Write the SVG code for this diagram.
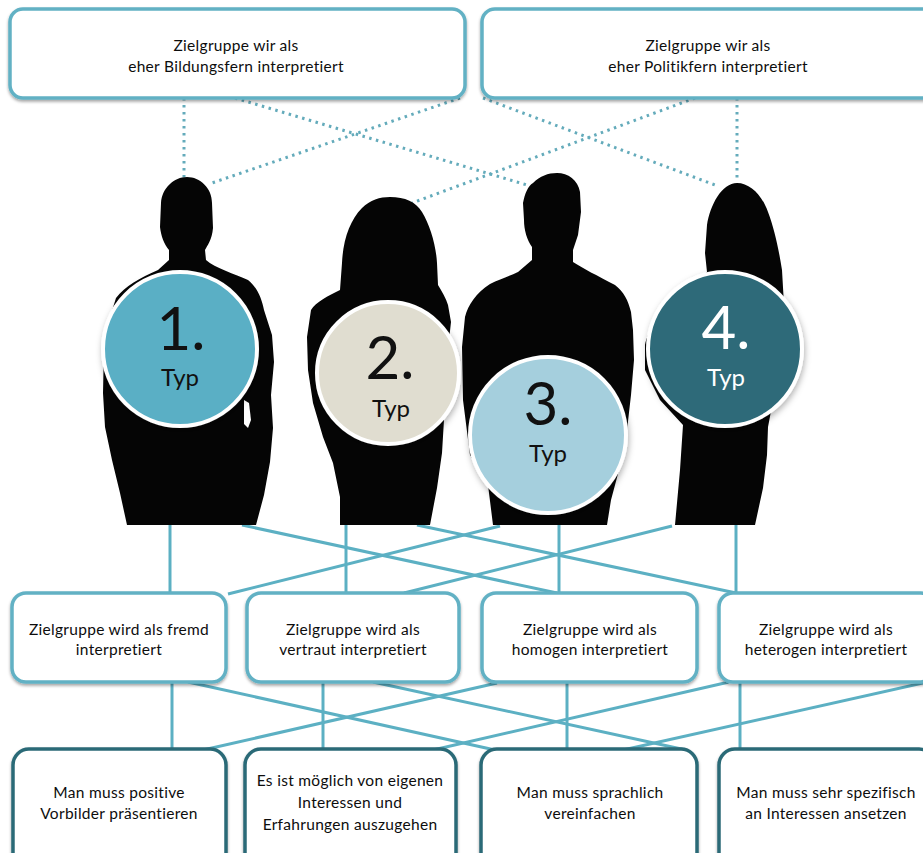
<svg xmlns="http://www.w3.org/2000/svg" width="923" height="853" viewBox="0 0 923 853">
  <defs>
    <style>
      .box { fill: #ffffff; stroke: #62b1c4; stroke-width: 3.5; filter: url(#boxShadow); }
      .box.dark { stroke: #2c6a77; }
      .lbl { font-family: Lato, "Open Sans", "Liberation Sans", sans-serif; font-size: 15.5px; letter-spacing: 0.3px; fill: #0d0d0d; text-anchor: middle; }
      .dot { stroke: #64abbb; stroke-width: 3; stroke-dasharray: 2.5 4.5; fill: none; }
      .conn { stroke: #5cb0c3; stroke-width: 3; fill: none; }
      .person { fill: #050505; }
      .badge { stroke: #ffffff; stroke-width: 4; filter: url(#circleShadow); }
      .num { font-family: Lato, "Open Sans", "Liberation Sans", sans-serif; font-size: 60px; text-anchor: middle; }
      .typ { font-family: Lato, "Open Sans", "Liberation Sans", sans-serif; font-size: 24px; text-anchor: middle; }
    </style>
    <filter id="boxShadow" x="-10%" y="-10%" width="120%" height="130%">
      <feDropShadow dx="0" dy="2" stdDeviation="1.5" flood-color="#000" flood-opacity="0.35"/>
    </filter>
    <filter id="circleShadow" x="-20%" y="-20%" width="140%" height="140%">
      <feDropShadow dx="1" dy="3" stdDeviation="3" flood-color="#000" flood-opacity="0.3"/>
    </filter>
  </defs>

  <rect width="923" height="853" fill="#ffffff"/>

  <!-- dotted links from the two top boxes to the figures -->
  <g id="dotted-links">
    <line class="dot" x1="184" y1="98" x2="184" y2="178"/>
    <line class="dot" x1="235" y1="98" x2="527" y2="185"/>
    <line class="dot" x1="460" y1="98" x2="212" y2="183"/>
    <line class="dot" x1="483" y1="98" x2="715" y2="185"/>
    <line class="dot" x1="695" y1="98" x2="412" y2="203"/>
    <line class="dot" x1="737" y1="98" x2="737" y2="180"/>
  </g>

  <!-- solid connectors -->
  <g id="connectors">
    <!-- figures to middle row -->
    <line class="conn" x1="170" y1="525" x2="170" y2="593"/>
    <line class="conn" x1="346" y1="525" x2="346" y2="593"/>
    <line class="conn" x1="559" y1="525" x2="559" y2="593"/>
    <line class="conn" x1="736" y1="525" x2="736" y2="593"/>
    <line class="conn" x1="242" y1="525" x2="557" y2="593"/>
    <line class="conn" x1="417" y1="525" x2="736" y2="593"/>
    <line class="conn" x1="500" y1="526" x2="228" y2="594"/>
    <line class="conn" x1="672" y1="526" x2="404" y2="593"/>
    <!-- middle row to bottom row -->
    <line class="conn" x1="172" y1="682" x2="172" y2="750"/>
    <line class="conn" x1="323" y1="682" x2="323" y2="750"/>
    <line class="conn" x1="567" y1="682" x2="567" y2="750"/>
    <line class="conn" x1="740" y1="682" x2="740" y2="750"/>
    <line class="conn" x1="188" y1="682" x2="495" y2="750"/>
    <line class="conn" x1="373" y1="682" x2="686" y2="750"/>
    <line class="conn" x1="203" y1="750" x2="497" y2="683"/>
    <line class="conn" x1="433" y1="750" x2="729" y2="682"/>
    <line class="conn" x1="623" y1="750" x2="923" y2="683"/>
  </g>

  <!-- top row -->
  <g id="top-bildungsfern">
    <rect class="box" x="10" y="9" width="455" height="89" rx="13"/>
    <text class="lbl" x="236" y="51">Zielgruppe wir als</text>
    <text class="lbl" x="236" y="72">eher Bildungsfern interpretiert</text>
  </g>
  <g id="top-politikfern">
    <rect class="box" x="482" y="9" width="455" height="89" rx="13"/>
    <text class="lbl" x="708" y="51">Zielgruppe wir als</text>
    <text class="lbl" x="708" y="72">eher Politikfern interpretiert</text>
  </g>

  <!-- figure 1 -->
  <g id="typ-1">
    <path class="person" d="M187,177 C200,177 212,188 212,203 L213,228 C212,240 207,246 205,250 L206,260 C215,268 235,274 248,280 C258,288 262,300 264,310 L272,335 L274,362 L271,395 L273,428 L270,462 L264,495 L256,525 L127,525 L120,493 L112,460 L105,427 L103,393 L104,347 L109,320 L116,298 C125,286 140,278 158,270 L169,260 L169,250 C164,244 161,236 160,227 L161,203 C162,188 174,177 187,177 Z"/>
    <path fill="#ffffff" d="M244,400 L249,403 L251,420 L248,428 L244,424 Z"/>
    <circle class="badge" cx="180" cy="349" r="77" fill="#5aafc5"/>
    <text class="num" x="181" y="350" fill="#111">1.</text>
    <text class="typ" x="180" y="386" fill="#111">Typ</text>
  </g>

  <!-- figure 2 -->
  <g id="typ-2">
    <path class="person" d="M390,197 C405,197 416,202 422,212 C430,225 436,245 437,263 L438,285 C442,292 446,298 448,305 L451,322 L447,358 L445,403 L442,453 L437,488 L430,525 L340,525 L340,497 L333,463 L323,437 L313,403 L308,370 L307,337 L311,310 C316,302 328,296 340,290 L342,263 C343,240 350,220 362,208 C370,200 380,197 390,197 Z"/>
    <circle class="badge" cx="388" cy="373" r="71" fill="#e0ddd0"/>
    <text class="num" x="390" y="379" fill="#111">2.</text>
    <text class="typ" x="391" y="417" fill="#111">Typ</text>
  </g>

  <!-- figure 3 -->
  <g id="typ-3">
    <path class="person" d="M557,173 C568,173 578,180 580,192 L581,212 L578,235 L573,250 L573,262 C582,268 598,276 615,285 C624,292 628,300 631,312 L633,330 L634,360 L631,395 L627,430 L619,470 L611,500 L607,525 L493,525 L488,485 L470,455 L463,400 L462,347 L465,317 C468,305 476,293 490,284 C500,279 510,276 518,272 L532,260 L532,247 C527,240 524,230 524,220 L523,203 C525,193 528,186 533,183 C540,176 548,173 557,173 Z"/>
    <circle class="badge" cx="548" cy="435" r="78" fill="#a5cfdd"/>
    <text class="num" x="548" y="425" fill="#111">3.</text>
    <text class="typ" x="548" y="462" fill="#111">Typ</text>
  </g>

  <!-- figure 4 -->
  <g id="typ-4">
    <path class="person" d="M737,183 C750,183 762,195 768,212 C774,228 778,245 782,270 L784,305 L782,340 L775,390 L768,427 L767,455 L763,488 L755,525 L675,525 L677,503 L680,470 L683,425 L660,400 L645,370 L645,345 C648,330 660,310 690,290 L707,272 L705,253 L707,225 C710,205 722,183 737,183 Z"/>
    <circle class="badge" cx="725" cy="349" r="77" fill="#2e6b79"/>
    <text class="num" x="726" y="349" fill="#ffffff">4.</text>
    <text class="typ" x="726" y="386" fill="#ffffff">Typ</text>
  </g>

  <!-- middle row -->
  <g id="mid-fremd">
    <rect class="box" x="12" y="593" width="214" height="89" rx="14"/>
    <text class="lbl" x="119" y="635">Zielgruppe wird als fremd</text>
    <text class="lbl" x="119" y="655">interpretiert</text>
  </g>
  <g id="mid-vertraut">
    <rect class="box" x="247" y="593" width="212" height="89" rx="14"/>
    <text class="lbl" x="353" y="635">Zielgruppe wird als</text>
    <text class="lbl" x="353" y="655">vertraut interpretiert</text>
  </g>
  <g id="mid-homogen">
    <rect class="box" x="482" y="593" width="215" height="89" rx="14"/>
    <text class="lbl" x="590" y="635">Zielgruppe wird als</text>
    <text class="lbl" x="590" y="655">homogen interpretiert</text>
  </g>
  <g id="mid-heterogen">
    <rect class="box" x="719" y="593" width="216" height="89" rx="14"/>
    <text class="lbl" x="826" y="635">Zielgruppe wird als</text>
    <text class="lbl" x="826" y="655">heterogen interpretiert</text>
  </g>

  <!-- bottom row -->
  <g id="bot-vorbilder">
    <rect class="box dark" x="13" y="749" width="213" height="120" rx="16"/>
    <text class="lbl" x="119" y="798">Man muss positive</text>
    <text class="lbl" x="119" y="819">Vorbilder präsentieren</text>
  </g>
  <g id="bot-erfahrungen">
    <rect class="box dark" x="245" y="749" width="211" height="120" rx="16"/>
    <text class="lbl" x="350" y="786">Es ist möglich von eigenen</text>
    <text class="lbl" x="350" y="808">Interessen und</text>
    <text class="lbl" x="350" y="830">Erfahrungen auszugehen</text>
  </g>
  <g id="bot-vereinfachen">
    <rect class="box dark" x="481" y="749" width="216" height="120" rx="16"/>
    <text class="lbl" x="590" y="798">Man muss sprachlich</text>
    <text class="lbl" x="590" y="819">vereinfachen</text>
  </g>
  <g id="bot-interessen">
    <rect class="box dark" x="719" y="749" width="216" height="120" rx="16"/>
    <text class="lbl" x="826" y="798">Man muss sehr spezifisch</text>
    <text class="lbl" x="826" y="819">an Interessen ansetzen</text>
  </g>
</svg>
